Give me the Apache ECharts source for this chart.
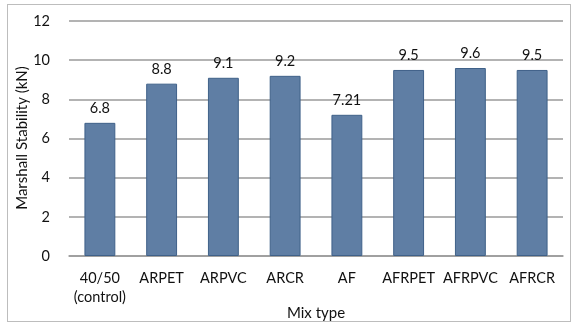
<!DOCTYPE html>
<html><head><meta charset="utf-8">
<script src="https://cdn.jsdelivr.net/npm/echarts@6/dist/echarts.min.js"></script>
<style>
html,body{margin:0;padding:0;background:#fff;}
#frame{position:absolute;left:7px;top:4px;width:564px;height:318px;border:1px solid #bdbdbd;box-sizing:border-box;}
#c{position:absolute;left:0;top:0;width:574px;height:324px;}
</style></head><body>
<div id="frame"></div>
<div id="c"></div>
<script>
const categories = ['40/50\n(control)','ARPET','ARPVC','ARCR','AF','AFRPET','AFRPVC','AFRCR'];
const values = [6.8, 8.8, 9.1, 9.2, 7.21, 9.5, 9.6, 9.5];
const yTicks = [0, 2, 4, 6, 8, 10, 12];
const xName = 'Mix type';
const yName = 'Marshall Stability (kN)';
const chart = echarts.init(document.getElementById('c'));
const font = 'Lato, Open Sans, sans-serif';
chart.setOption({
  animation: false,
  grid: {left: 69, right: 11, top: 21, bottom: 68, containLabel: false, outerBoundsMode: 'none'},
  graphic: [
    {type: 'text', x: 316, y: 313, style: {text: xName, font: '15px ' + font, fill: '#111', align: 'center', verticalAlign: 'middle'}},
    {type: 'text', x: 22, y: 138, rotation: Math.PI / 2, style: {text: yName, font: '15px ' + font, fill: '#111', align: 'center', verticalAlign: 'middle'}}
  ],
  xAxis: {
    type: 'category', data: categories,
    axisLine: {lineStyle: {color: '#9a9a9a', width: 1.5}},
    axisTick: {show: false},
    axisLabel: {fontFamily: font, fontSize: 14.5, color: '#111', margin: 13, lineHeight: 19, interval: 0}
  },
  yAxis: {
    type: 'value', min: yTicks[0], max: yTicks[yTicks.length-1], interval: 2,
    axisLine: {show: false}, axisTick: {show: false},
    axisLabel: {fontFamily: font, fontSize: 14.5, color: '#111', margin: 19},
    splitLine: {lineStyle: {color: '#9a9a9a', width: 1.5}}
  },
  series: [{
    type: 'bar', data: values, barWidth: '50%',
    itemStyle: {color: '#5f7ea4', borderColor: '#3f6189', borderWidth: 1},
    label: {show: true, position: 'top', distance: 7, fontFamily: font, fontSize: 14.5, color: '#111',
      formatter: p => String(p.value)}
  }]
});
</script>
</body></html>
